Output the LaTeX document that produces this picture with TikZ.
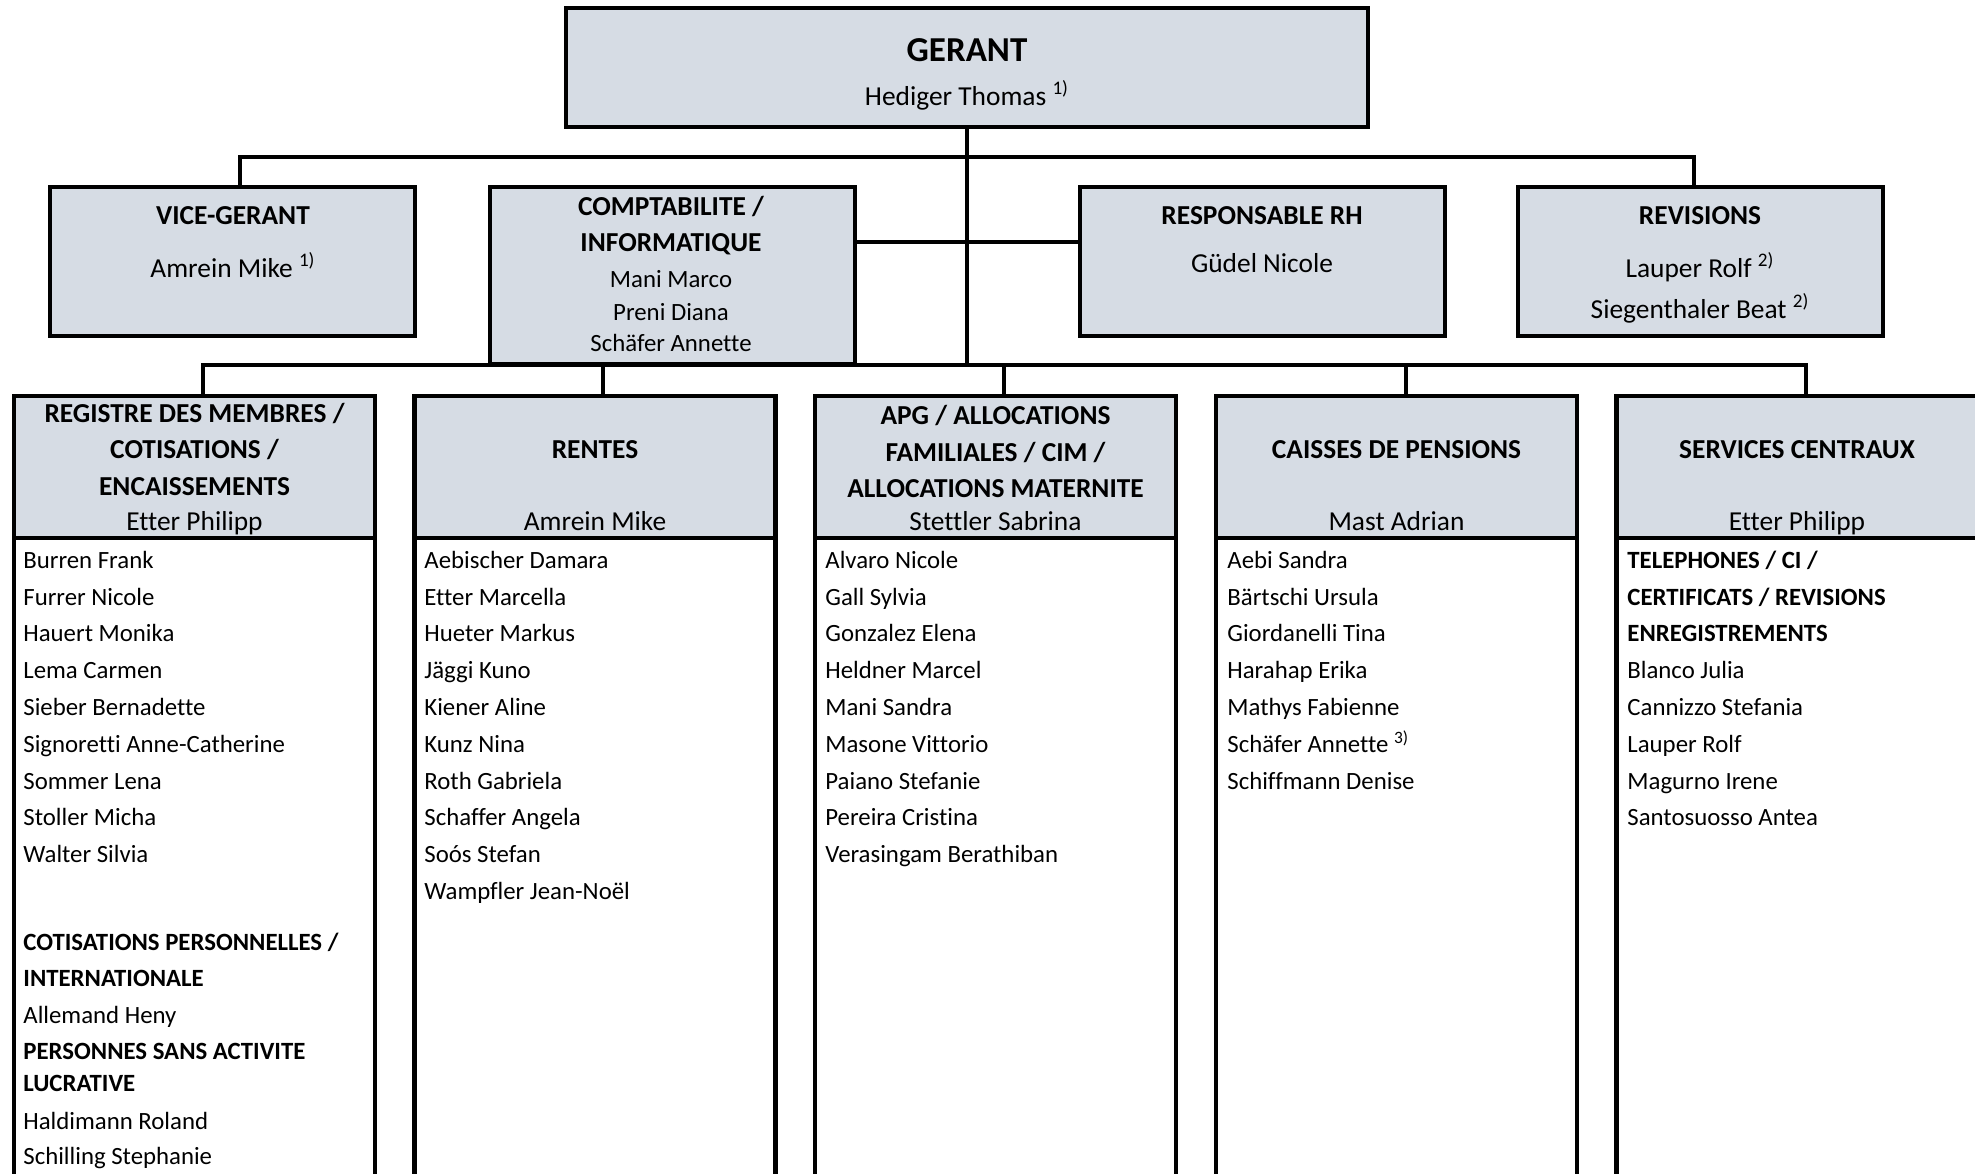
\documentclass[tikz,border=0pt]{standalone}
\usepackage{fontspec}
\setmainfont[Ligatures=NoCommon]{Carlito}
\usetikzlibrary{calc}
\definecolor{hdr}{HTML}{D6DCE4}
\begin{document}
\begin{tikzpicture}[x=0.5pt,y=-0.5pt,
 hbox/.style={draw=black, line width=2.2pt, fill=hdr, anchor=north west, inner sep=0pt, outer sep=0pt},
 lbox/.style={draw=black, line width=2.2pt, fill=white, anchor=north west, inner sep=0pt, outer sep=0pt},
 conn/.style={line width=2pt},
 big/.style={font=\fontsize{17.5}{20}\selectfont\bfseries, anchor=base, inner sep=0pt, yshift=-6.2pt},
 ttl/.style={font=\fontsize{13.7}{16}\selectfont\bfseries, anchor=base, inner sep=0pt, yshift=-5pt},
 nm/.style={font=\fontsize{13.7}{16}\selectfont, anchor=base, inner sep=0pt, yshift=-5.6pt},
 snm/.style={font=\fontsize{12.4}{14}\selectfont, anchor=base, inner sep=0pt, yshift=-5pt},
 lst/.style={font=\fontsize{12.4}{14}\selectfont, anchor=base west, inner sep=0pt, yshift=-4.6pt},
 lstb/.style={font=\fontsize{12.4}{14}\selectfont\bfseries, anchor=base west, inner sep=0pt, yshift=-4.6pt},
]
\useasboundingbox (0,0) rectangle (1975,1173);
\clip (0,0) rectangle (1975,1173);
\fill[white] (0,0) rectangle (1975,1173);

\coordinate (b2) at (967,157);
\coordinate (b3) at (967,365);
\coordinate (cr) at (0,242);

% boxes
\node[hbox, minimum width=401pt, minimum height=59.5pt] (ger) at (566,8) {};
\node[hbox, minimum width=182.5pt, minimum height=74.5pt] (vice) at (50,187) {};
\node[hbox, minimum width=182.5pt, minimum height=88.5pt] (compta) at (490,187) {};
\node[hbox, minimum width=182.5pt, minimum height=74.5pt] (rh) at (1080,187) {};
\node[hbox, minimum width=182.5pt, minimum height=74.5pt] (rev) at (1518,187) {};

\foreach \n/\x in {1/14,2/414.5,3/815,4/1216,5/1616.5}{
  \node[lbox, minimum width=180.5pt, minimum height=397pt] (l\n) at (\x,396) {};
  \node[hbox, minimum width=180.5pt, minimum height=71pt] (h\n) at (\x,396) {};
}

% connectors
\draw[conn] (ger.south) -- (b3);
\draw[conn] ($(vice.north)+(7,0)$) |- (b2) -| ($(rev.north)+(-7,0)$);
\draw[conn] (compta.east |- cr) -- (rh.west |- cr);
\draw[conn] ($(h1.north)+(8,0)$) |- (b3) -| ($(h5.north)+(9,0)$);
\draw[conn] ($(h2.north)+(8,0)$) -- ($(h2.north |- b3)+(8,0)$);
\draw[conn] ($(h3.north)+(8,0)$) -- ($(h3.north |- b3)+(8,0)$);
\draw[conn] ($(h4.north)+(9,0)$) -- ($(h4.north |- b3)+(9,0)$);
\draw[conn] (compta.south west) -- (compta.south east);

% top texts
\node[big] (tg) at (967,49) {GERANT};
\node[nm] (ng) at (967,94) {Hediger Thomas \textsuperscript{1)}};
\node[ttl] (tv) at (233,214) {VICE-GERANT};
\node[nm] (nv) at (233,266) {Amrein Mike \textsuperscript{1)}};
\node[ttl] (tc1) at (671,205) {COMPTABILITE /};
\node[ttl] (tc2) at (671,241) {INFORMATIQUE};
\node[snm] (nc1) at (671,277) {Mani Marco};
\node[snm] (nc2) at (671,310) {Preni Diana};
\node[snm] (nc3) at (671,341) {Schäfer Annette};
\node[ttl] (tr) at (1262,214) {RESPONSABLE RH};
\node[nm] (nr) at (1262,261) {Güdel Nicole};
\node[ttl] (trv) at (1700,214) {REVISIONS};
\node[nm] (nrv1) at (1700,266) {Lauper Rolf \textsuperscript{2)}};
\node[nm] (nrv2) at (1700,307) {Siegenthaler Beat \textsuperscript{2)}};

% bottom headers
\node[ttl] (t1a) at (194.5,412) {REGISTRE DES MEMBRES /};
\node[ttl] (t1b) at (194.5,448) {COTISATIONS /};
\node[ttl] (t1c) at (194.5,485) {ENCAISSEMENTS};
\node[nm] (n1) at (194.5,519) {Etter Philipp};
\node[ttl] (t2) at (595,448) {RENTES};
\node[nm] (n2) at (595,519) {Amrein Mike};
\node[ttl] (t3a) at (995.5,414) {APG / ALLOCATIONS};
\node[ttl] (t3b) at (995.5,451) {FAMILIALES / CIM /};
\node[ttl] (t3c) at (995.5,487) {ALLOCATIONS MATERNITE};
\node[nm] (n3) at (995.5,519) {Stettler Sabrina};
\node[ttl] (t4) at (1396.5,448) {CAISSES DE PENSIONS};
\node[nm] (n4) at (1396.5,519) {Mast Adrian};
\node[ttl] (t5) at (1797,448) {SERVICES CENTRAUX};
\node[nm] (n5) at (1797,519) {Etter Philipp};

% lists
\foreach \t [count=\i from 0] in {Burren Frank, Furrer Nicole, Hauert Monika, Lema Carmen, Sieber Bernadette, Signoretti Anne-Catherine, Sommer Lena, Stoller Micha, Walter Silvia}
  \node[lst] (a\i) at (23,{559+36.8*\i}) {\t};
\node[lstb] (a9) at (23,941) {COTISATIONS PERSONNELLES /};
\node[lstb] (a10) at (23,977) {INTERNATIONALE};
\node[lst] (a11) at (23,1014) {Allemand Heny};
\node[lstb] (a12) at (23,1050) {PERSONNES SANS ACTIVITE};
\node[lstb] (a13) at (23,1082) {LUCRATIVE};
\node[lst] (a14) at (23,1120) {Haldimann Roland};
\node[lst] (a15) at (23,1155) {Schilling Stephanie};

\foreach \t [count=\i from 0] in {Aebischer Damara, Etter Marcella, Hueter Markus, Jäggi Kuno, Kiener Aline, Kunz Nina, Roth Gabriela, Schaffer Angela, Soós Stefan, Wampfler Jean-Noël}
  \node[lst] (b\i) at (424,{559+36.8*\i}) {\t};

\foreach \t [count=\i from 0] in {Alvaro Nicole, Gall Sylvia, Gonzalez Elena, Heldner Marcel, Mani Sandra, Masone Vittorio, Paiano Stefanie, Pereira Cristina, Verasingam Berathiban}
  \node[lst] (c\i) at (825,{559+36.8*\i}) {\t};

\foreach \t [count=\i from 0] in {Aebi Sandra, Bärtschi Ursula, Giordanelli Tina, Harahap Erika, Mathys Fabienne, {Schäfer Annette \textsuperscript{3)}}, Schiffmann Denise}
  \node[lst] (d\i) at (1227,{559+36.8*\i}) {\t};

\foreach \t [count=\i from 0] in {TELEPHONES / CI /, CERTIFICATS / REVISIONS, ENREGISTREMENTS}
  \node[lstb] (e\i) at (1627,{559+36.8*\i}) {\t};
\foreach \t [count=\i from 3] in {Blanco Julia, Cannizzo Stefania, Lauper Rolf, Magurno Irene, Santosuosso Antea}
  \node[lst] (e\i) at (1627,{559+36.8*\i}) {\t};
\end{tikzpicture}
\end{document}
